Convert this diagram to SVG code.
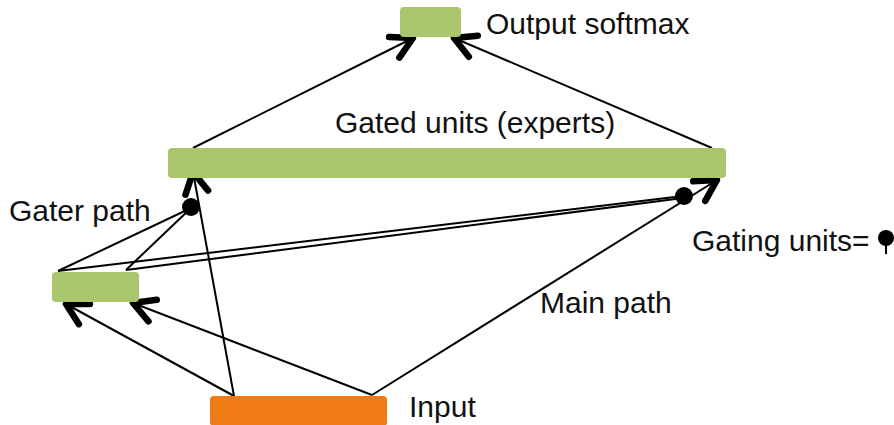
<svg xmlns="http://www.w3.org/2000/svg" width="894" height="425" viewBox="0 0 894 425">
  <style>
    .green { fill: #A9C56D; }
    .orange { fill: #F07A16; }
    .lbl { font-family: "Liberation Sans", Arial, sans-serif; font-size: 30px; fill: #111; }
    .conn { stroke: #000; stroke-width: 2; fill: none; }
    .dot { fill: #000; }
  </style>
  <defs>
    <marker id="ah" markerUnits="userSpaceOnUse" viewBox="-30 -20 36 40" markerWidth="36" markerHeight="40" refX="0" refY="0" orient="auto" overflow="visible">
      <path d="M -21 -11.5 L 0 0 L -21 11.5" fill="none" stroke="#000" stroke-width="6.5" stroke-linecap="round" stroke-linejoin="round"/>
    </marker>
  </defs>
  <rect width="894" height="425" fill="#fff"/>

  <g id="connectors">
    <line class="conn" x1="193" y1="148" x2="413" y2="38" marker-end="url(#ah)"/>
    <line class="conn" x1="712" y1="148" x2="454" y2="38" marker-end="url(#ah)"/>
    <line class="conn" x1="234" y1="396" x2="193" y2="172" marker-end="url(#ah)"/>
    <line class="conn" x1="372" y1="395" x2="717" y2="180" marker-end="url(#ah)"/>
    <line class="conn" x1="234" y1="396" x2="66" y2="304" marker-end="url(#ah)"/>
    <line class="conn" x1="372" y1="395" x2="133" y2="303" marker-end="url(#ah)"/>
    <line class="conn" x1="58" y1="271" x2="191" y2="208"/>
    <line class="conn" x1="126" y1="270" x2="191" y2="208"/>
    <line class="conn" x1="58" y1="271" x2="683" y2="196"/>
    <line class="conn" x1="126" y1="270" x2="683" y2="198"/>
  </g>

  <g id="output-softmax">
    <rect class="green" x="400" y="7" width="61" height="30" rx="4"/>
    <text class="lbl" x="486" y="34">Output softmax</text>
  </g>

  <g id="gated-units">
    <rect class="green" x="168" y="148" width="558" height="30" rx="4"/>
    <text class="lbl" x="335" y="133">Gated units (experts)</text>
  </g>

  <g id="gater">
    <rect class="green" x="52" y="272" width="87" height="30" rx="4"/>
    <text class="lbl" x="9" y="221">Gater path</text>
  </g>

  <g id="input">
    <rect class="orange" x="210" y="396" width="177" height="30" rx="4"/>
    <text class="lbl" x="409" y="417">Input</text>
  </g>

  <g id="gate-left">
    <circle class="dot" cx="191" cy="207" r="9"/>
  </g>

  <g id="gate-right">
    <circle class="dot" cx="684" cy="196" r="9"/>
  </g>

  <g id="main-path-label">
    <text class="lbl" x="540" y="313">Main path</text>
  </g>

  <g id="legend">
    <text class="lbl" x="692" y="251">Gating units=</text>
    <circle class="dot" cx="886" cy="238" r="8"/>
    <line x1="886" y1="238" x2="886" y2="254" stroke="#000" stroke-width="2"/>
  </g>
</svg>
